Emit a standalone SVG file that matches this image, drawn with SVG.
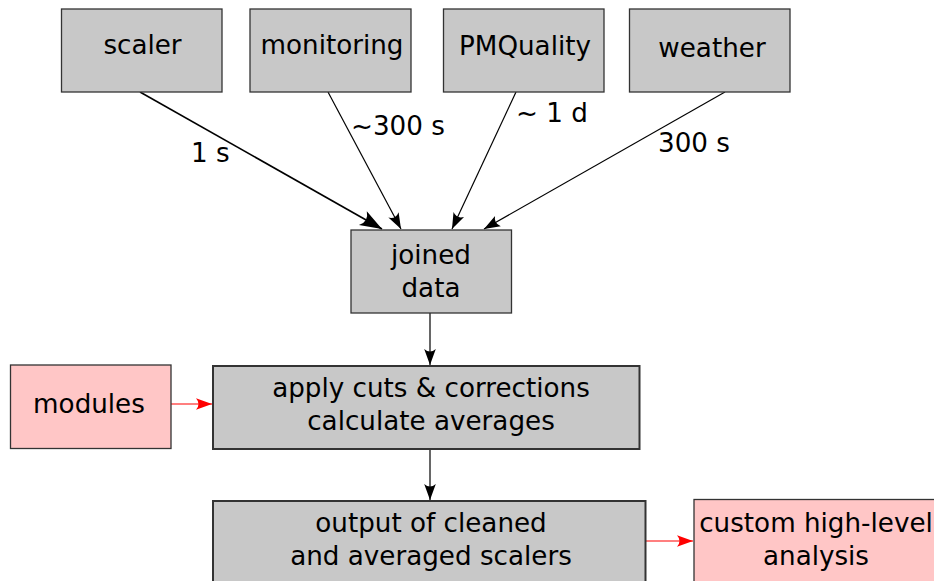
<svg xmlns="http://www.w3.org/2000/svg" width="934" height="581" viewBox="0 0 934 581">
<defs>
<style>
.box{fill:#c8c8c8;stroke:#333;stroke-width:1.3}
.pink{fill:#ffc6c6;stroke:#333;stroke-width:1.3}
.thick{stroke-width:2}
text{font-family:"DejaVu Sans",sans-serif;font-size:26.2px;fill:#000;text-anchor:middle}
.lbl{text-anchor:start}
.c{fill:none;stroke:#000;stroke-width:1.2}
.red{stroke:#f00}
</style>
<marker id="ah" markerUnits="userSpaceOnUse" viewBox="-17 -7 18 14" refX="0" refY="0" markerWidth="18" markerHeight="14" orient="auto">
<path d="M0,0 L-16,-5.8 Q-11,0 -16,5.8 Z" fill="#000"/>
</marker>
<marker id="ahL" markerUnits="userSpaceOnUse" viewBox="-23 -9 24 18" refX="0" refY="0" markerWidth="24" markerHeight="18" orient="auto">
<path d="M0,0 L-22,-8 Q-15,0 -22,8 Z" fill="#000"/>
</marker>
<marker id="ahR" markerUnits="userSpaceOnUse" viewBox="-17 -7 18 14" refX="0" refY="0" markerWidth="18" markerHeight="14" orient="auto">
<path d="M0,0 L-16,-5.8 Q-11,0 -16,5.8 Z" fill="#f00"/>
</marker>
</defs>
<rect width="934" height="581" fill="#fff"/>
<g id="connectors">
<line class="c" x1="140" y1="92" x2="382" y2="229" marker-end="url(#ahL)" style="stroke-width:1.6"/>
<line class="c" x1="328" y1="92" x2="401" y2="229" marker-end="url(#ah)"/>
<line class="c" x1="516" y1="92" x2="452" y2="229" marker-end="url(#ah)"/>
<line class="c" x1="725" y1="92" x2="484" y2="229" marker-end="url(#ah)"/>
<line class="c" x1="430" y1="313" x2="430" y2="365" marker-end="url(#ah)"/>
<line class="c" x1="430" y1="449" x2="430" y2="500" marker-end="url(#ah)"/>
<line class="c red" x1="171" y1="404" x2="212" y2="404" marker-end="url(#ahR)"/>
<line class="c red" x1="646" y1="541" x2="693" y2="541" marker-end="url(#ahR)"/>
<text class="lbl" x="191" y="162">1 s</text>
<text class="lbl" x="351" y="135">~300 s</text>
<text class="lbl" x="516" y="122">~ 1 d</text>
<text class="lbl" x="658" y="152">300 s</text>
</g>
<g id="scaler"><rect class="box" x="61.5" y="9" width="160.5" height="83"/><text x="142.5" y="54">scaler</text></g>
<g id="monitoring"><rect class="box" x="250" y="9" width="161" height="83"/><text x="332" y="54">monitoring</text></g>
<g id="pmquality"><rect class="box" x="443.5" y="9" width="160.5" height="83"/><text x="525" y="55">PMQuality</text></g>
<g id="weather"><rect class="box" x="629.5" y="9" width="160.5" height="83"/><text x="712" y="57">weather</text></g>
<g id="joined"><rect class="box" x="351" y="230" width="160.5" height="83"/><text x="431" y="264">joined</text><text x="431" y="297">data</text></g>
<g id="modules"><rect class="pink" x="10.5" y="365" width="160.5" height="83.5"/><text x="89" y="413">modules</text></g>
<g id="apply"><rect class="box thick" x="213" y="366" width="426.5" height="83"/><text x="431" y="397">apply cuts &amp; corrections</text><text x="431" y="430">calculate averages</text></g>
<g id="output"><rect class="box thick" x="213" y="501" width="432.5" height="90"/><text x="431" y="532">output of cleaned</text><text x="431" y="565">and averaged scalers</text></g>
<g id="custom"><rect class="pink" x="694" y="499.5" width="250" height="90"/><text x="816" y="532">custom high-level</text><text x="816" y="565">analysis</text></g>
</svg>
